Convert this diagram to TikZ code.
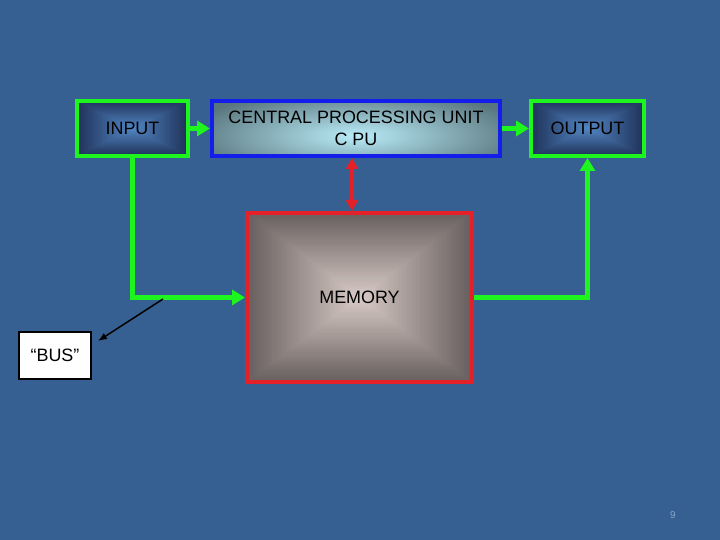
\documentclass[tikz,border=0pt]{standalone}
\usepackage{fontspec}
\setmainfont{Liberation Sans}
\usetikzlibrary{arrows.meta,calc}

\definecolor{slidebg}{RGB}{53,96,145}
\definecolor{busgreen}{RGB}{30,245,30}
\definecolor{cpublue}{RGB}{20,30,235}
\definecolor{memred}{RGB}{228,32,40}
\definecolor{ionavy}{RGB}{32,50,90}
\definecolor{iolight}{RGB}{82,135,196}
\definecolor{memdark}{RGB}{104,95,95}
\definecolor{memlight}{RGB}{218,204,199}
\definecolor{cpudark}{RGB}{88,116,124}
\definecolor{cpulight}{RGB}{185,236,248}
\definecolor{pagenum}{RGB}{140,165,200}

% layered rectangles, outer colour at the border, inner colour at the middle
\newcommand\glowfill[2]{%
  \foreach \i in {0,...,40}{
    \pgfmathsetmacro\f{1-\i/40}
    \pgfmathsetmacro\m{100*\i/40}
    \fill[#2!\m!#1] ($(path picture bounding box.center)!\f!(path picture bounding box.south west)$) rectangle ($(path picture bounding box.center)!\f!(path picture bounding box.north east)$);
  }}

\tikzset{
  rectglow/.style 2 args={fill=#1, path picture={\glowfill{#1}{#2}}},
  unitbox/.style={line width=4bp, font=\fontsize{18}{22}\selectfont, align=center, inner sep=0pt},
  flow/.style={busgreen, line width=5bp, -{Triangle[width=15bp,length=13bp]}},
}

\begin{document}
\begin{tikzpicture}[x=1bp,y=-1bp]
  %slide background
  	\fill[slidebg] (0,0) rectangle (720,540);

  %the units
  	\node[unitbox, draw=busgreen, rectglow={ionavy}{iolight}, minimum width=111bp, minimum height=55bp] (input) at (132.5,128.5) {INPUT};
  	\node[unitbox, draw=cpublue, fill=cpudark, minimum width=288bp, minimum height=55bp,
  	      path picture={\shade[inner color=cpulight, outer color=cpudark] ([yshift=-7bp]path picture bounding box.center) ellipse (175bp and 46bp);}] (cpu) at (356,128.5) {CENTRAL PROCESSING UNIT\\C PU};
  	\node[unitbox, draw=busgreen, rectglow={ionavy}{iolight}, minimum width=113bp, minimum height=55bp] (output) at (587.5,128.5) {OUTPUT};
  	\node[unitbox, draw=memred, rectglow={memdark}{memlight}, minimum width=225bp, minimum height=169bp] (mem) at (359.5,297.5) {MEMORY};

  %the bus
  	\draw[flow] (input) -- (cpu);
  	\draw[flow] (cpu) -- (output);
  	\draw[flow] (input.south) |- (mem.west);
  	\draw[flow] (mem.east) -| (output.south);
  	\draw[memred, line width=4bp, {Triangle[width=12bp,length=11bp]}-{Triangle[width=12bp,length=11bp]}] ([xshift=-4bp]cpu.south) -- ([xshift=-4bp]cpu.south |- mem.north);

  %label for the bus
  	\node[draw=black, line width=2bp, fill=white, minimum width=72bp, minimum height=47bp, inner sep=0pt, font=\fontsize{18}{22}\selectfont] (bus) at (55,355.5) {“BUS”};
  	\coordinate (bustap) at (163,299);
  	\draw[line width=1.5bp, -{Latex[length=9bp,width=7bp]}] (bustap) -- ($(bus.north east)+(6,10)$);

  %page number
  	\node[pagenum, font=\fontsize{10}{12}\selectfont] (pgno) at (673,515) {9};
\end{tikzpicture}
\end{document}
